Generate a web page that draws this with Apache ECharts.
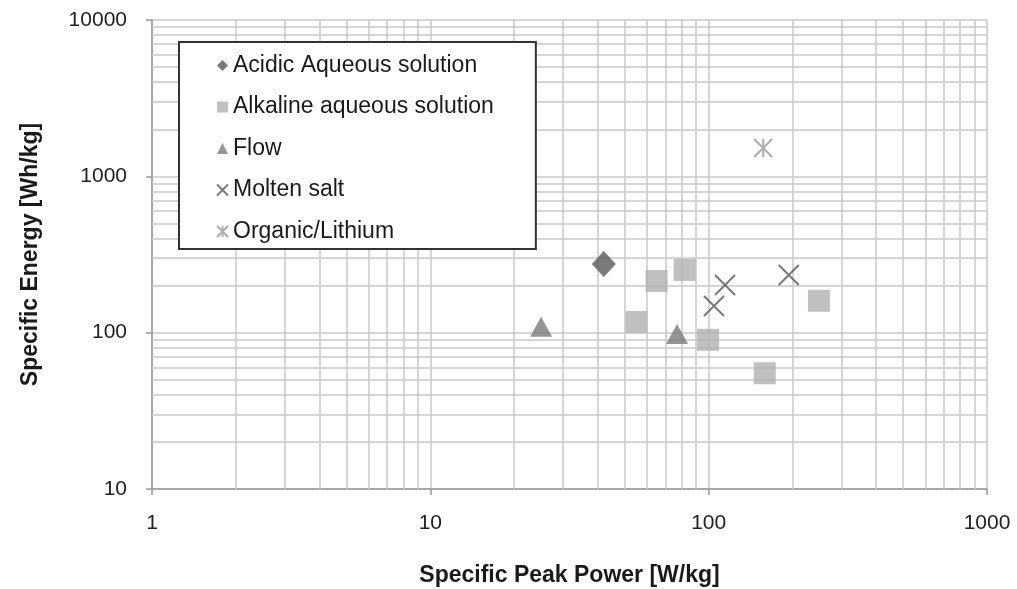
<!DOCTYPE html>
<html>
<head>
<meta charset="utf-8">
<script src="https://cdn.jsdelivr.net/npm/echarts@6/dist/echarts.min.js"></script>
<style>
    html, body { margin: 0; padding: 0; background: #fff; }
    #main { width: 1017px; height: 589px; }
</style>
</head>
<body>
<div id="main"></div>
<script>
// 数据 [功率 W/kg, 能量 Wh/kg]
var acidic = [[42, 275]];
var alkaline = [[65, 214], [82, 252], [55, 117], [99.5, 90], [249, 160], [159, 55]];
var flow = [[25, 109], [77, 98]];
var molten = [[114.5, 202], [104.5, 148], [194, 234]];
var organic = [[157, 1518]];

var seriesNames = ['Acidic Aqueous solution', 'Alkaline aqueous solution', 'Flow', 'Molten salt', 'Organic/Lithium'];

// 次网格线 2..9 每个十进位
var xDecades = [1, 10, 100];
var yDecades = [10, 100, 1000];
var minorSteps = [2, 3, 4, 5, 6, 7, 8, 9];

var minorLines = [];
for (var i = 0; i < xDecades.length; i++) {
    for (var j = 0; j < minorSteps.length; j++) {
        minorLines.push({ xAxis: xDecades[i] * minorSteps[j] });
    }
}
for (var i = 0; i < yDecades.length; i++) {
    for (var j = 0; j < minorSteps.length; j++) {
        minorLines.push({ yAxis: yDecades[i] * minorSteps[j] });
    }
}

var font = 'Liberation Sans, Arial, sans-serif';
var gridColor = '#c8c8c8';
var plainLabel = function (v) { return String(v); };

var myChart = echarts.init(document.getElementById('main'));
var option = {
    animation: false,
    backgroundColor: '#fff',
    textStyle: { fontFamily: font },
    grid: {
        left: 152,
        right: 30,
        top: 20,
        bottom: 100,
        outerBoundsMode: 'none'
    },
    legend: {
        orient: 'vertical',
        left: 179,
        top: 42,
        zlevel: 1,
        z: 20,
        data: seriesNames,
        backgroundColor: '#fff',
        borderColor: '#333',
        borderWidth: 2,
        padding: [12, 42, 6, 37],
        itemWidth: 11,
        itemHeight: 11,
        itemGap: 18.5,
        textStyle: {
            fontFamily: font,
            fontSize: 23,
            color: '#1a1a1a'
        }
    },
    xAxis: {
        type: 'log',
        logBase: 10,
        min: 1,
        max: 1000,
        name: 'Specific Peak Power [W/kg]',
        nameLocation: 'middle',
        nameGap: 75,
        nameTextStyle: { fontFamily: font, fontSize: 23, fontWeight: 'bold', color: '#1a1a1a' },
        axisLine: { show: true, onZero: false, lineStyle: { color: '#999', width: 1.5 } },
        axisTick: { show: true, inside: false, length: 6, lineStyle: { color: '#999', width: 1.5 } },
        axisLabel: { fontFamily: font, fontSize: 21, color: '#222', margin: 24, formatter: plainLabel },
        splitLine: { show: true, lineStyle: { color: gridColor, width: 1.5 } }
    },
    yAxis: {
        type: 'log',
        logBase: 10,
        min: 10,
        max: 10000,
        name: 'Specific Energy [Wh/kg]',
        nameLocation: 'middle',
        nameGap: 110,
        nameTextStyle: { fontFamily: font, fontSize: 23, fontWeight: 'bold', color: '#1a1a1a' },
        axisLine: { show: true, onZero: false, lineStyle: { color: '#999', width: 1.5 } },
        axisTick: { show: true, inside: false, length: 6, lineStyle: { color: '#999', width: 1.5 } },
        axisLabel: { fontFamily: font, fontSize: 21, color: '#222', margin: 25, formatter: plainLabel },
        splitLine: { show: true, lineStyle: { color: gridColor, width: 1.5 } }
    },
    series: [
        {
            // 次网格线
            name: 'grid',
            type: 'scatter',
            data: [],
            silent: true,
            z: 1,
            markLine: {
                silent: true,
                symbol: 'none',
                animation: false,
                label: { show: false },
                lineStyle: { color: gridColor, width: 1.5, type: 'solid' },
                emphasis: { disabled: true },
                data: minorLines
            }
        },
        {
            name: seriesNames[0],
            type: 'scatter',
            symbol: 'diamond',
            symbolSize: [24, 26],
            z: 5,
            itemStyle: { color: '#595959' },
            data: acidic
        },
        {
            name: seriesNames[1],
            type: 'scatter',
            symbol: 'rect',
            symbolSize: 22,
            z: 5,
            itemStyle: { color: '#b0b0b0' },
            data: alkaline
        },
        {
            name: seriesNames[2],
            type: 'scatter',
            symbol: 'triangle',
            symbolSize: [22, 20],
            z: 5,
            itemStyle: { color: '#7a7a7a' },
            data: flow
        },
        {
            name: seriesNames[3],
            type: 'scatter',
            symbol: 'path://M0 0L10 10M10 0L0 10',
            symbolSize: 20,
            z: 5,
            itemStyle: { color: 'transparent', borderColor: '#595959', borderWidth: 2 },
            data: molten
        },
        {
            name: seriesNames[4],
            type: 'scatter',
            symbol: 'path://M0 0L10 10M10 0L0 10M5 0L5 10',
            symbolSize: 18,
            z: 5,
            itemStyle: { color: 'transparent', borderColor: '#9a9a9a', borderWidth: 2 },
            data: organic
        }
    ]
};
myChart.setOption(option);
</script>
</body>
</html>
